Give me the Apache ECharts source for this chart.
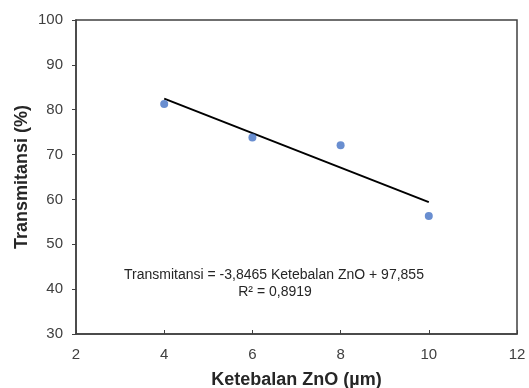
<!DOCTYPE html>
<html>
<head>
<meta charset="utf-8">
<script src="https://cdn.jsdelivr.net/npm/echarts@6/dist/echarts.min.js"></script>
<style>
  html, body { margin: 0; padding: 0; background: #fff; }
  #chart { width: 529px; height: 388px; }
</style>
</head>
<body>
<div id="chart"></div>
<script>
// ketebalan ZnO (um) vs transmitansi (%)
var thickness = [4, 6, 8, 10];
var transmittance = [81.3, 73.8, 72.1, 56.3];
// garis trend (linear) dari persamaan
var trendX = [4, 10];
var trendY = [82.47, 59.39];
var eqText = 'Transmitansi = -3,8465 Ketebalan ZnO + 97,855';
var r2Text = 'R\u00b2 = 0,8919';

var axisColor = '#404040';
var fontName = 'Liberation Sans, Arial, sans-serif';
var labelFont = { color: '#404040', fontSize: 15, fontFamily: fontName };
var titleFont = { color: '#262626', fontSize: 18, fontWeight: 'bold', fontFamily: fontName };

var chart = echarts.init(document.getElementById('chart'));
chart.setOption({
    animation: false,
    grid: {
        left: 76, right: 12, top: 20, bottom: 54,
        outerBoundsMode: 'none',
        show: true, borderColor: axisColor, borderWidth: 1.5
    },
    xAxis: {
        type: 'value', min: 2, max: 12, interval: 2,
        name: 'Ketebalan ZnO (\u00b5m)', nameLocation: 'middle', nameGap: 37,
        nameMoveOverlap: false,
        nameTextStyle: titleFont,
        axisLine: { lineStyle: { color: axisColor, width: 1.5 } },
        axisTick: { inside: true, length: 4, lineStyle: { color: axisColor } },
        axisLabel: Object.assign({ margin: 13 }, labelFont),
        splitLine: { show: false }
    },
    yAxis: {
        type: 'value', min: 30, max: 100, interval: 10,
        name: 'Transmitansi (%)', nameLocation: 'middle', nameGap: 45, nameRotate: 90,
        nameMoveOverlap: false,
        nameTextStyle: titleFont,
        axisLine: { show: true, lineStyle: { color: axisColor, width: 1.5 } },
        axisTick: { show: true, inside: false, length: 4, lineStyle: { color: axisColor } },
        axisLabel: Object.assign({ margin: 13 }, labelFont),
        splitLine: { show: false }
    },
    series: [
        {
            type: 'line',
            data: trendX.map(function (x, i) { return [x, trendY[i]]; }),
            showSymbol: false,
            lineStyle: { color: '#000', width: 2 },
            z: 2
        },
        {
            type: 'scatter',
            data: thickness.map(function (x, i) { return [x, transmittance[i]]; }),
            symbolSize: 8,
            itemStyle: { color: '#4472C4' },
            z: 3
        }
    ],
    graphic: [
        {
            type: 'text', x: 274, y: 275,
            style: {
                text: eqText, textAlign: 'center', textVerticalAlign: 'middle',
                fill: '#262626', fontSize: 14, fontFamily: fontName
            }
        },
        {
            type: 'text', x: 275, y: 292,
            style: {
                text: r2Text, textAlign: 'center', textVerticalAlign: 'middle',
                fill: '#262626', fontSize: 14, fontFamily: fontName
            }
        }
    ]
});
</script>
</body>
</html>
